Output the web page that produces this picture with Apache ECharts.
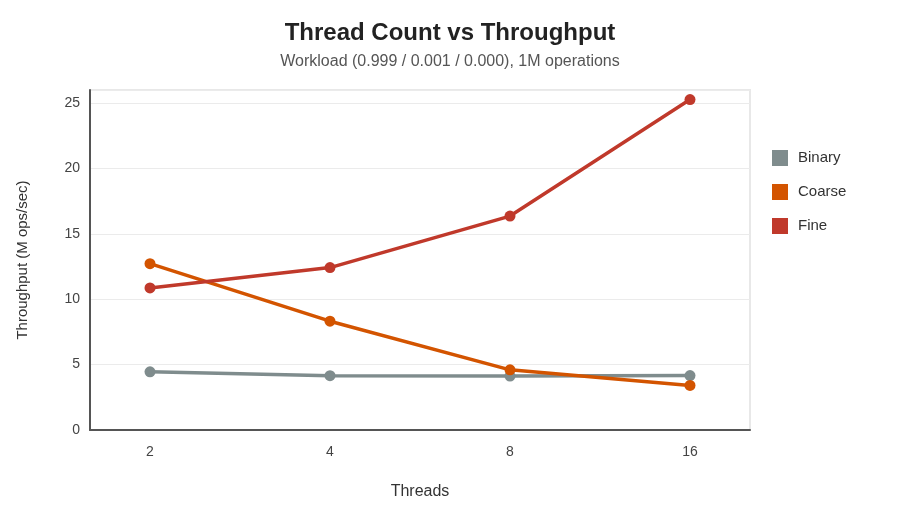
<!DOCTYPE html>
<html>
<head>
<meta charset="utf-8">
<script src="https://cdn.jsdelivr.net/npm/echarts@6/dist/echarts.min.js"></script>
<style>html,body{margin:0;padding:0;background:#fff}#c{width:900px;height:520px}</style>
</head>
<body>
<div id="c"></div>
<script>
var threads = ['2', '4', '8', '16'];
var binary = [4.45, 4.15, 4.12, 4.16];
var coarse = [12.72, 8.32, 4.6, 3.41];
var fine = [10.86, 12.42, 16.36, 25.27];
var seriesNames = ['Binary', 'Coarse', 'Fine'];
var colors = ['#7f8c8d', '#d35400', '#c0392b'];
var yMax = 26;
var yInterval = 5;

var FONT = 'Liberation Sans, Arial, sans-serif';
var chart = echarts.init(document.getElementById('c'), null, {renderer: 'canvas'});
function mkSeries(name, data, color) {
  return {
    name: name, type: 'line', xAxisIndex: 1, yAxisIndex: 1, data: data,
    symbol: 'circle', symbolSize: 11, showSymbol: true,
    lineStyle: {width: 3.5, color: color}, itemStyle: {color: color},
    emphasis: {disabled: true}, animation: false
  };
}
chart.setOption({
  animation: false,
  textStyle: {fontFamily: FONT},
  title: {
    text: 'Thread Count vs Throughput',
    subtext: 'Workload (0.999 / 0.001 / 0.000), 1M operations',
    left: 'center', top: 16, itemGap: 9,
    textStyle: {fontSize: 24, fontWeight: 'bold', color: '#222', fontFamily: FONT},
    subtextStyle: {fontSize: 16, color: '#555', fontFamily: FONT}
  },
  legend: {
    orient: 'vertical', left: 767, top: 145, itemWidth: 16, itemHeight: 16, itemGap: 18,
    icon: 'rect', data: seriesNames,
    textStyle: {fontSize: 15, color: '#333', fontFamily: FONT, padding: [0, 0, 0, 5]}
  },
  grid: [
    {left: 90, right: 150, top: 90, bottom: 90, show: true, borderColor: '#e8e8e8', borderWidth: 2, backgroundColor: 'transparent'},
    {left: 150, right: 210, top: 90, bottom: 90}
  ],
  xAxis: [
    {gridIndex: 0, type: 'value', min: 0, max: 1, name: 'Threads', nameLocation: 'middle', nameGap: 54,
     nameTextStyle: {fontSize: 16, color: '#333'},
     axisLine: {show: true, lineStyle: {color: '#555', width: 2}}, axisTick: {show: false},
     axisLabel: {show: false}, splitLine: {show: false}},
    {gridIndex: 1, type: 'category', data: threads, boundaryGap: false,
     axisLine: {show: false}, axisTick: {show: false},
     axisLabel: {fontSize: 14, color: '#444', margin: 15}, splitLine: {show: false}}
  ],
  yAxis: [
    {gridIndex: 0, type: 'value', min: 0, max: yMax, interval: yInterval,
     name: 'Throughput (M ops/sec)', nameLocation: 'middle', nameGap: 60, nameRotate: 90,
     nameTextStyle: {fontSize: 15, color: '#333'},
     axisLine: {show: true, lineStyle: {color: '#555', width: 2}}, axisTick: {show: false},
     axisLabel: {fontSize: 14, color: '#444', margin: 10, showMaxLabel: false},
     splitLine: {show: true, lineStyle: {color: '#ebebeb', width: 1}}},
    {gridIndex: 1, type: 'value', min: 0, max: yMax, interval: yInterval, show: false,
     splitLine: {show: false}}
  ],
  series: [
    mkSeries(seriesNames[0], binary, colors[0]),
    mkSeries(seriesNames[1], coarse, colors[1]),
    mkSeries(seriesNames[2], fine, colors[2])
  ]
});
</script>
</body>
</html>
